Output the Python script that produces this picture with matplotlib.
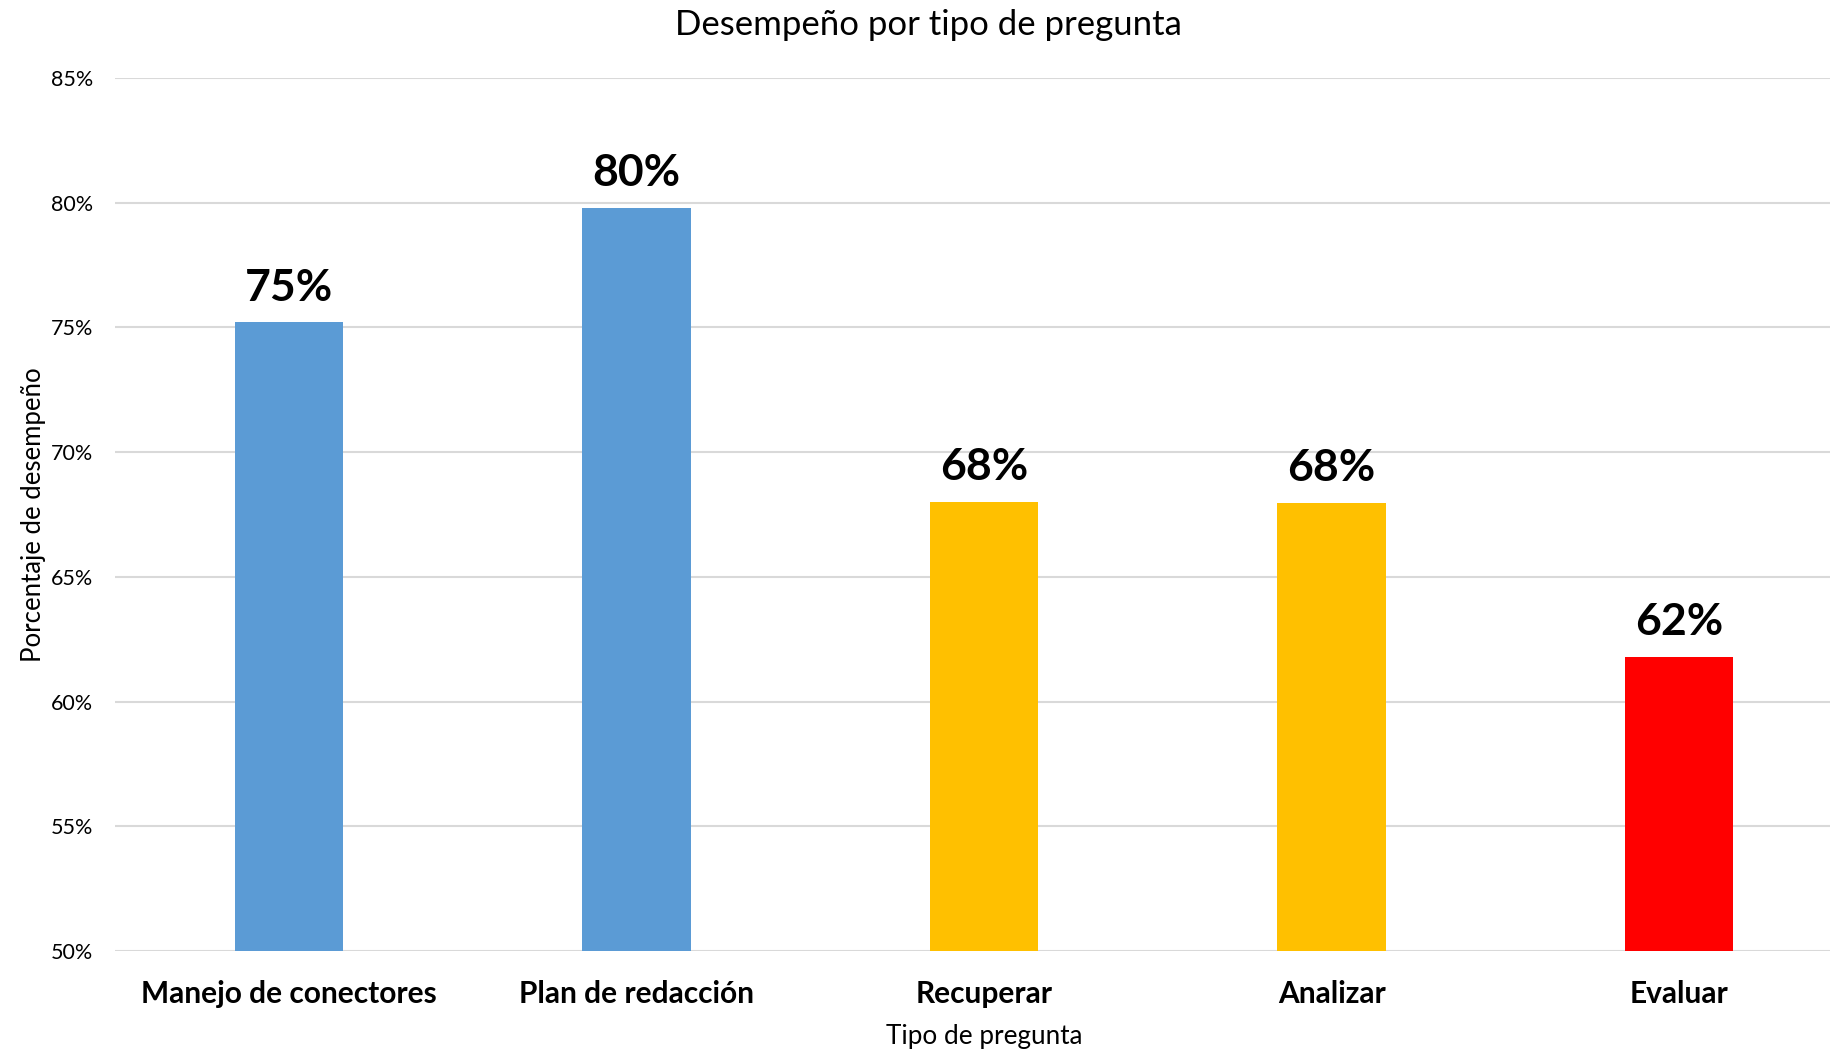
import matplotlib
matplotlib.use('Agg')
import matplotlib.pyplot as plt
from matplotlib.ticker import PercentFormatter

categorias = ['Manejo de conectores', 'Plan de redacción', 'Recuperar', 'Analizar', 'Evaluar']
valores = [75.2, 79.8, 68.0, 67.96, 61.8]
colores = ['#5B9BD5', '#5B9BD5', '#FFC000', '#FFC000', '#FF0000']
etiquetas = ['75%', '80%', '68%', '68%', '62%']

plt.rcParams['font.family'] = ['Lato', 'DejaVu Sans']

fig = plt.figure(figsize=(18.31, 10.52), dpi=100)
ax = fig.add_axes([115 / 1831, 1 - 951 / 1052, 1 - 115 / 1831, (951 - 78) / 1052])

x = range(len(categorias))
ax.bar(x, valores, width=0.312, color=colores, zorder=3)

for i, v in enumerate(valores):
    ax.annotate(etiquetas[i], (i, v), xytext=(0, 10.5), textcoords='offset points',
                ha='center', va='bottom', fontsize=32, fontweight='bold')

ax.set_ylim(50, 85)
ax.set_yticks(range(50, 86, 5))
ax.yaxis.set_major_formatter(PercentFormatter(decimals=0))
ax.set_xlim(-0.5, 4.5 - 22 / 347.7)
ax.set_xticks(list(x))
ax.set_xticklabels(categorias, fontsize=21.5, fontweight='bold')
ax.tick_params(axis='y', labelsize=15.5, length=0, pad=16)
ax.tick_params(axis='x', length=0, pad=21)
ax.grid(axis='y', color='#D9D9D9', linewidth=1.5, zorder=0)
for s in ax.spines.values():
    s.set_visible(False)

ax.set_xlabel('Tipo de pregunta', fontsize=18.8)
ax.xaxis.set_label_coords(2.5 / (5 - 22 / 347.7), -0.0985)
ax.xaxis.label.set_verticalalignment('center')
ax.set_ylabel('Porcentaje de desempeño', fontsize=18.5, labelpad=3)
fig.text(928 / 1831, 1 - 25 / 1052, 'Desempeño por tipo de pregunta', fontsize=25,
         ha='center', va='center')

fig.savefig('out.png', dpi=100)
